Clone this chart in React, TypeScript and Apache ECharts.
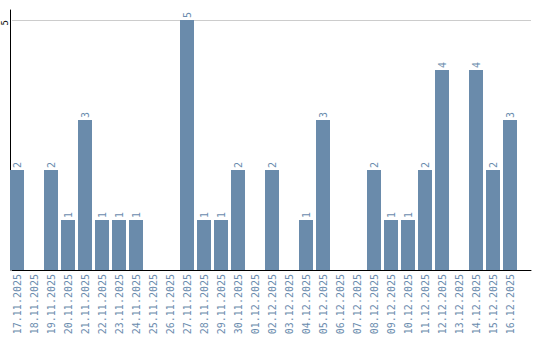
import React, { useEffect, useRef } from "react";
import * as echarts from "echarts";

const categories = [
  "17.11.2025", "18.11.2025", "19.11.2025", "20.11.2025", "21.11.2025",
  "22.11.2025", "23.11.2025", "24.11.2025", "25.11.2025", "26.11.2025",
  "27.11.2025", "28.11.2025", "29.11.2025", "30.11.2025", "01.12.2025",
  "02.12.2025", "03.12.2025", "04.12.2025", "05.12.2025", "06.12.2025",
  "07.12.2025", "08.12.2025", "09.12.2025", "10.12.2025", "11.12.2025",
  "12.12.2025", "13.12.2025", "14.12.2025", "15.12.2025", "16.12.2025",
];
const values = [
  2, 0, 2, 1, 3, 1, 1, 1, 0, 0,
  5, 1, 1, 2, 0, 2, 0, 1, 3, 0,
  0, 2, 1, 1, 2, 4, 0, 4, 2, 3,
];
const yTicks = [0, 5];

const BAR = "#6a8bab";
const TXT = "#6b8cae";
const MONO = "DejaVu Sans Mono";

export default function App() {
  const ref = useRef<HTMLDivElement>(null);
  useEffect(() => {
    const chart = echarts.init(ref.current!, null, { renderer: "svg" });
    chart.setOption({
      animation: false,
      grid: [
        { left: 10, right: 9, top: 10, bottom: 70, containLabel: false },
        { left: 10, right: 9, top: 20, bottom: 70, containLabel: false },
        { left: 8.5, width: 510, top: 20, bottom: 70, containLabel: false },
      ],
      xAxis: [
        {
          gridIndex: 0, type: "value", min: 0, max: 1,
          axisLine: { show: false }, axisTick: { show: false },
          axisLabel: { show: false }, splitLine: { show: false },
        },
        {
          gridIndex: 1, type: "value", min: 0, max: 1,
          axisLine: { show: true, onZero: false, lineStyle: { color: "#000", width: 1 } },
          axisTick: { show: false }, axisLabel: { show: false }, splitLine: { show: false },
        },
        {
          gridIndex: 2, type: "category", data: categories,
          axisLine: { show: false }, axisTick: { show: false },
          axisLabel: {
            interval: 0, rotate: 90, color: TXT, fontFamily: MONO, fontSize: 10, margin: 4,
          },
          splitLine: { show: false },
        },
      ],
      yAxis: [
        {
          gridIndex: 0, type: "value", min: 0, max: 1,
          axisLine: { show: true, lineStyle: { color: "#000", width: 1 } },
          axisTick: { show: false }, axisLabel: { show: false }, splitLine: { show: false },
        },
        {
          gridIndex: 1, type: "value", min: yTicks[0], max: yTicks[1], interval: yTicks[1],
          axisLine: { show: false }, axisTick: { show: false },
          axisLabel: {
            showMinLabel: false, rotate: 90, align: "right", verticalAlign: "bottom",
            color: "#000", fontFamily: MONO, fontSize: 9, margin: 3,
          },
          splitLine: { show: true, lineStyle: { color: "#cccccc", width: 1 } },
        },
        {
          gridIndex: 2, type: "value", min: yTicks[0], max: yTicks[1],
          show: false,
        },
      ],
      series: [
        {
          type: "bar",
          xAxisIndex: 2,
          yAxisIndex: 2,
          data: values,
          barWidth: 14,
          itemStyle: { color: BAR },
          label: {
            show: true,
            position: "top",
            rotate: 90,
            align: "left",
            verticalAlign: "middle",
            distance: 2,
            color: TXT,
            fontFamily: MONO,
            fontSize: 10,
            formatter: (p: any) => (p.value ? String(p.value) : ""),
          },
        },
      ],
    });
    return () => chart.dispose();
  }, []);
  return <div ref={ref} style={{ width: 540, height: 340, position: "absolute", left: 0, top: 0 }} />;
}
